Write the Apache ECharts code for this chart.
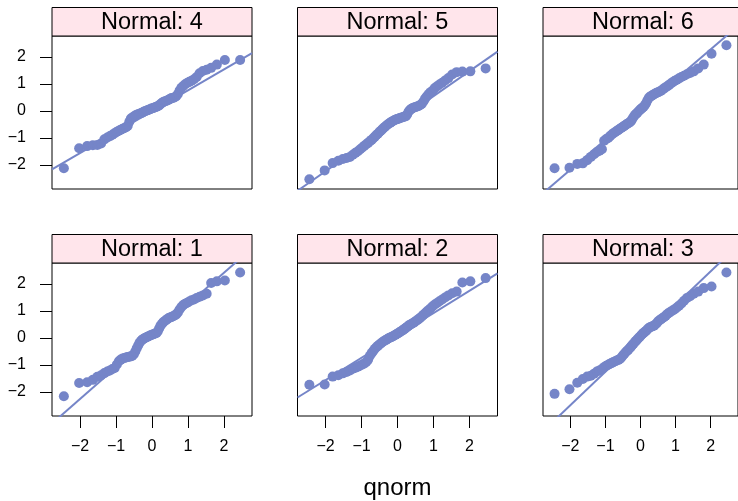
<!DOCTYPE html>
<html>
<head>
<meta charset="utf-8">
<script src="https://cdn.jsdelivr.net/npm/echarts@6/dist/echarts.min.js"></script>
<style>html,body{margin:0;padding:0;background:#fff}#chart{width:738px;height:501px}</style>
</head>
<body>
<div id="chart"></div>
<script>
// ---- data: sorted sample values per panel ----
const normal1 = [-2.16,-1.67,-1.64,-1.55,-1.44,-1.38,-1.30,-1.24,-1.20,-1.15,-1.11,-0.98,-0.86,-0.80,-0.76,-0.74,-0.72,-0.70,-0.69,-0.68,
  -0.66,-0.60,-0.50,-0.38,-0.28,-0.18,-0.11,-0.06,-0.03,0.00,0.02,0.05,0.07,0.09,0.11,0.13,0.15,0.17,0.19,0.25,
  0.35,0.45,0.52,0.58,0.62,0.66,0.70,0.74,0.76,0.78,0.81,0.84,0.87,0.95,1.06,1.15,1.22,1.27,1.31,1.35,
  1.40,1.43,1.48,1.53,1.58,1.64,2.04,2.10,2.13,2.43];
const normal2 = [-1.73,-1.72,-1.43,-1.38,-1.31,-1.26,-1.20,-1.14,-1.10,-1.06,-1.02,-0.98,-0.94,-0.89,-0.80,-0.66,-0.56,-0.48,-0.40,-0.34,
  -0.29,-0.24,-0.20,-0.16,-0.12,-0.09,-0.06,-0.03,0.00,0.02,0.04,0.07,0.09,0.12,0.15,0.18,0.21,0.24,0.27,0.31,
  0.34,0.38,0.42,0.46,0.49,0.52,0.55,0.58,0.62,0.66,0.70,0.75,0.80,0.86,0.92,0.98,1.04,1.10,1.18,1.24,
  1.30,1.36,1.43,1.50,1.58,1.66,1.72,2.06,2.10,2.22];
const normal3 = [-2.07,-1.90,-1.66,-1.52,-1.43,-1.40,-1.32,-1.24,-1.20,-1.15,-1.08,-1.03,-0.99,-0.95,-0.92,-0.89,-0.86,-0.83,-0.81,-0.78,
  -0.72,-0.65,-0.59,-0.53,-0.48,-0.43,-0.38,-0.32,-0.26,-0.21,-0.15,-0.10,-0.05,0.00,0.05,0.10,0.15,0.19,0.23,0.27,
  0.32,0.37,0.40,0.42,0.44,0.46,0.50,0.55,0.62,0.66,0.70,0.74,0.78,0.83,0.89,0.94,0.98,1.02,1.07,1.13,
  1.20,1.28,1.38,1.48,1.55,1.64,1.72,1.85,1.91,2.43];
const normal4 = [-2.12,-1.38,-1.30,-1.27,-1.26,-1.20,-1.05,-0.98,-0.93,-0.88,-0.82,-0.77,-0.73,-0.69,-0.66,-0.63,-0.60,-0.55,-0.40,-0.28,
  -0.24,-0.20,-0.17,-0.14,-0.12,-0.10,-0.08,-0.06,-0.03,-0.01,0.01,0.03,0.05,0.07,0.09,0.10,0.12,0.14,0.16,0.18,
  0.21,0.25,0.30,0.33,0.35,0.37,0.39,0.42,0.45,0.48,0.48,0.51,0.55,0.63,0.76,0.86,0.93,0.99,1.04,1.08,
  1.12,1.18,1.26,1.40,1.48,1.53,1.60,1.72,1.89,1.89];
const normal5 = [-2.53,-2.20,-1.93,-1.84,-1.78,-1.74,-1.70,-1.62,-1.55,-1.49,-1.42,-1.35,-1.29,-1.23,-1.18,-1.12,-1.07,-1.01,-0.95,-0.89,
  -0.84,-0.78,-0.73,-0.68,-0.63,-0.58,-0.54,-0.50,-0.46,-0.43,-0.40,-0.37,-0.34,-0.32,-0.30,-0.29,-0.27,-0.25,-0.24,-0.22,
  -0.20,-0.19,-0.12,-0.02,0.04,0.08,0.11,0.13,0.15,0.17,0.19,0.22,0.26,0.35,0.46,0.55,0.63,0.70,0.76,0.85,
  0.92,0.98,1.05,1.13,1.22,1.35,1.44,1.46,1.47,1.58];
const normal6 = [-2.12,-2.10,-1.96,-1.94,-1.82,-1.70,-1.60,-1.52,-1.47,-1.42,-1.10,-1.04,-1.00,-0.93,-0.87,-0.82,-0.78,-0.74,-0.70,-0.66,
  -0.62,-0.59,-0.55,-0.52,-0.48,-0.45,-0.42,-0.38,-0.30,-0.22,-0.15,-0.11,-0.06,-0.01,0.04,0.08,0.12,0.16,0.22,0.30,
  0.40,0.48,0.53,0.56,0.59,0.62,0.65,0.68,0.70,0.72,0.75,0.80,0.84,0.88,0.92,0.97,1.02,1.07,1.12,1.16,
  1.21,1.26,1.31,1.36,1.41,1.47,1.58,1.72,2.12,2.44];

// reference lines per panel: [intercept, slope]
const line1 = [0.08, 1.169];
const line2 = [0.095, 0.827];
const line3 = [-0.01, 1.24];
const line4 = [-0.01, 0.775];
const line5 = [-0.377, 0.927];
const line6 = [0.054, 1.115];

// panel order as laid out: top row then bottom row
const panelLabels = ['Normal: 4', 'Normal: 5', 'Normal: 6', 'Normal: 1', 'Normal: 2', 'Normal: 3'];
const panelData = [normal4, normal5, normal6, normal1, normal2, normal3];
const panelLines = [line4, line5, line6, line1, line2, line3];

const xTicks = [-2, -1, 0, 1, 2];
const yTicks = [-2, -1, 0, 1, 2];
const xLim = [-2.78, 2.78];
const yLim = [-2.89, 2.78];
const xTitle = 'qnorm';

// ---- layout / style ----
const colLeft = [52, 297.5, 543];
const rowTop = [36, 263];
const panelW = 200, panelH = 153, stripH = 28.5;
const ptColor = '#7585C8';
const stripFill = '#FFE5EB';
const FONT = '"Liberation Sans", Arial, Helvetica, sans-serif';

// theoretical normal quantiles (inverse CDF, Acklam)
function qnorm(p) {
  const a=[-3.969683028665376e+01,2.209460984245205e+02,-2.759285104469687e+02,1.383577518672690e+02,-3.066479806614716e+01,2.506628277459239e+00];
  const b=[-5.447609879822406e+01,1.615858368580409e+02,-1.556989798598866e+02,6.680131188771972e+01,-1.328068155288572e+01];
  const c=[-7.784894002430293e-03,-3.223964580411365e-01,-2.400758277161838e+00,-2.549732539343734e+00,4.374664141464968e+00,2.938163982698783e+00];
  const d=[7.784695709041462e-03,3.224671290700398e-01,2.445134137142996e+00,3.754408661907416e+00];
  const pl = 0.02425;
  let q, r;
  if (p < pl) { q = Math.sqrt(-2*Math.log(p)); return (((((c[0]*q+c[1])*q+c[2])*q+c[3])*q+c[4])*q+c[5])/((((d[0]*q+d[1])*q+d[2])*q+d[3])*q+1); }
  if (p > 1-pl) { q = Math.sqrt(-2*Math.log(1-p)); return -(((((c[0]*q+c[1])*q+c[2])*q+c[3])*q+c[4])*q+c[5])/((((d[0]*q+d[1])*q+d[2])*q+d[3])*q+1); }
  q = p - 0.5; r = q*q;
  return (((((a[0]*r+a[1])*r+a[2])*r+a[3])*r+a[4])*r+a[5])*q/(((((b[0]*r+b[1])*r+b[2])*r+b[3])*r+b[4])*r+1);
}
function ppoints(n) { const out = []; const off = n <= 10 ? 3/8 : 0.5; for (let i = 1; i <= n; i++) out.push((i - off) / (n + 1 - 2*off)); return out; }
const minusFmt = v => String(v).replace('-', '\u2212');

const grids = [], xAxes = [], yAxes = [], series = [], graphics = [];
panelData.forEach((vals, k) => {
  const row = Math.floor(k / 3), col = k % 3;
  const left = colLeft[col], top = rowTop[row];
  grids.push({ left: left, top: top, width: panelW, height: panelH, show: true,
    borderColor: '#000', borderWidth: 1, backgroundColor: 'transparent', containLabel: false });
  const showX = row === 1, showY = col === 0;
  xAxes.push({ gridIndex: k, type: 'value', position: 'bottom', min: xLim[0], max: xLim[1],
    axisLine: { show: false, onZero: false }, splitLine: { show: false },
    axisTick: { show: showX, length: 12, customValues: xTicks, lineStyle: { color: '#000', width: 1 } },
    axisLabel: { show: showX, customValues: xTicks, margin: 23, fontSize: 16, color: '#000', fontFamily: FONT, formatter: minusFmt } });
  yAxes.push({ gridIndex: k, type: 'value', position: 'left', min: yLim[0], max: yLim[1],
    axisLine: { show: false, onZero: false }, splitLine: { show: false },
    axisTick: { show: showY, length: 12, customValues: yTicks, lineStyle: { color: '#000', width: 1 } },
    axisLabel: { show: showY, customValues: yTicks, margin: 26, fontSize: 16, color: '#000', fontFamily: FONT, formatter: minusFmt } });
  const pp = ppoints(vals.length);
  series.push({ type: 'scatter', xAxisIndex: k, yAxisIndex: k, symbol: 'circle', symbolSize: 10,
    itemStyle: { color: ptColor, opacity: 1 }, silent: true, animation: false,
    data: vals.map((v, i) => [qnorm(pp[i]), v]) });
  const ln = panelLines[k];
  series.push({ type: 'line', xAxisIndex: k, yAxisIndex: k, showSymbol: false, symbol: 'none', clip: true,
    silent: true, animation: false, lineStyle: { color: ptColor, width: 2 },
    data: [[xLim[0], ln[0] + ln[1]*xLim[0]], [xLim[1], ln[0] + ln[1]*xLim[1]]] });
  graphics.push({ type: 'rect', shape: { x: left, y: top - stripH, width: panelW, height: stripH },
    style: { fill: stripFill, stroke: '#000', lineWidth: 1 }, silent: true });
  graphics.push({ type: 'text', x: left + panelW/2, y: top - stripH/2 + 1,
    style: { text: panelLabels[k], fill: '#000', font: '23.5px ' + FONT, textAlign: 'center', textVerticalAlign: 'middle' }, silent: true });
});
graphics.push({ type: 'text', x: colLeft[1] + panelW/2, y: 488,
  style: { text: xTitle, fill: '#000', font: '24px ' + FONT, textAlign: 'center', textVerticalAlign: 'middle' }, silent: true });

const chart = echarts.init(document.getElementById('chart'), null, { renderer: 'canvas' });
chart.setOption({ animation: false, backgroundColor: '#fff', grid: grids, xAxis: xAxes, yAxis: yAxes, series: series, graphic: graphics });
</script>
</body>
</html>
